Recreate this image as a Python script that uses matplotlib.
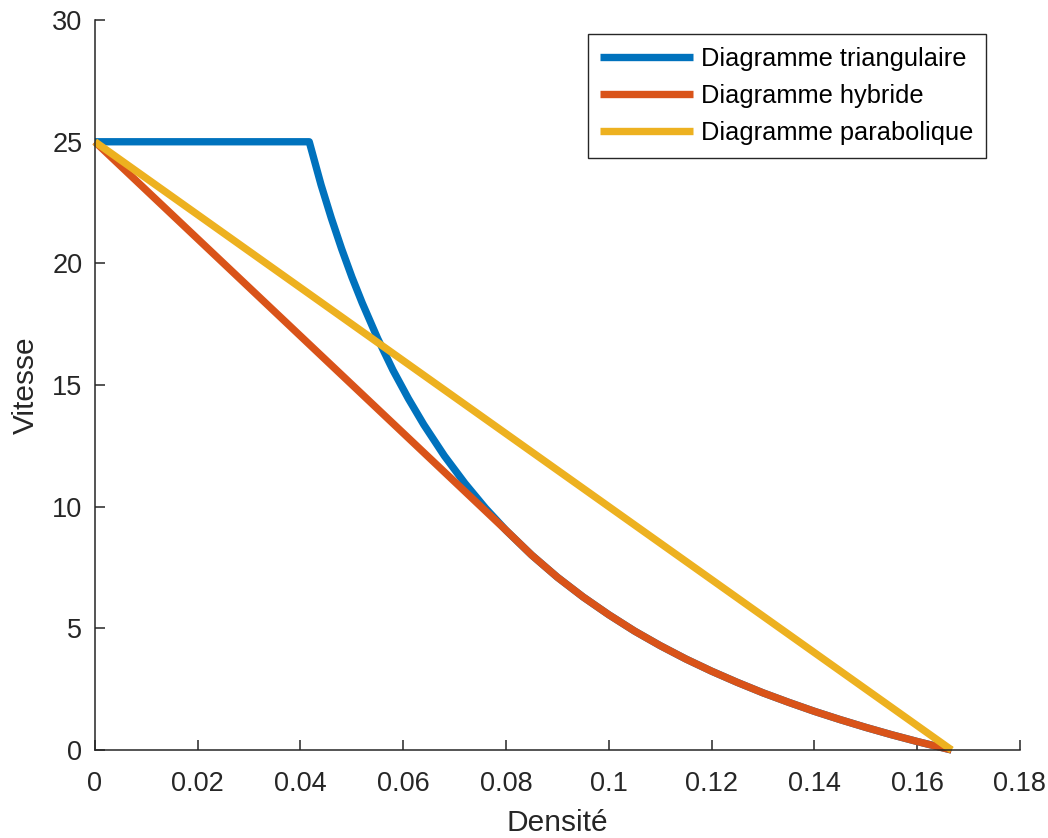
import matplotlib
matplotlib.use("Agg")
import matplotlib.pyplot as plt

# densité (veh/m) et vitesse (m/s)
rho_tri = [0.0, 0.0417, 0.044, 0.046, 0.048, 0.050, 0.052, 0.055, 0.058, 0.061,
           0.064, 0.068, 0.072, 0.076, 0.080, 0.085, 0.090, 0.095, 0.100, 0.105,
           0.110, 0.115, 0.120, 0.125, 0.130, 0.135, 0.140, 0.145, 0.150, 0.155,
           0.160, 0.1667]
v_tri = [25.0, 25.0, 23.23, 21.86, 20.60, 19.44, 18.38, 16.92, 15.61, 14.44,
         13.37, 12.09, 10.96, 9.94, 9.03, 8.01, 7.10, 6.29, 5.56, 4.89,
         4.29, 3.74, 3.24, 2.78, 2.35, 1.96, 1.59, 1.25, 0.93, 0.63,
         0.35, 0.0]

rho_hyb = [0.0, 0.080, 0.085, 0.090, 0.095, 0.100, 0.105, 0.110, 0.115, 0.120,
           0.125, 0.130, 0.135, 0.140, 0.145, 0.150, 0.155, 0.160, 0.1667]
v_hyb = [25.0, 9.03, 8.01, 7.10, 6.29, 5.56, 4.89, 4.29, 3.74, 3.24,
         2.78, 2.35, 1.96, 1.59, 1.25, 0.93, 0.63, 0.35, 0.0]

rho_par = [0.0, 0.1667]
v_par = [25.0, 0.0]

xticks = [0, 0.02, 0.04, 0.06, 0.08, 0.1, 0.12, 0.14, 0.16, 0.18]
xticklabels = ["0", "0.02", "0.04", "0.06", "0.08", "0.1", "0.12", "0.14", "0.16", "0.18"]
yticks = [0, 5, 10, 15, 20, 25, 30]

dark = "#262626"
plt.rcParams["font.family"] = ["Liberation Sans", "DejaVu Sans"]

fig = plt.figure(figsize=(10.48, 8.38), dpi=100)
ax = fig.add_axes([0.0906, 0.105, 0.8826, 0.871])

lw = 5.3
ax.plot(rho_tri, v_tri, color="#0072BD", lw=lw, solid_capstyle="butt",
        solid_joinstyle="round", clip_on=False, label="Diagramme triangulaire")
ax.plot(rho_hyb, v_hyb, color="#D95319", lw=lw, solid_capstyle="butt",
        solid_joinstyle="round", clip_on=False, label="Diagramme hybride")
ax.plot(rho_par, v_par, color="#EDB120", lw=lw, solid_capstyle="butt",
        clip_on=False, label="Diagramme parabolique")

ax.set_xlim(0, 0.18)
ax.set_ylim(0, 30)
ax.set_xticks(xticks)
ax.set_xticklabels(xticklabels)
ax.set_yticks(yticks)

for side in ("top", "right"):
    ax.spines[side].set_visible(False)
for side in ("left", "bottom"):
    ax.spines[side].set_color(dark)
    ax.spines[side].set_linewidth(1.1)

ax.tick_params(direction="in", length=7, width=1.1, colors=dark,
               labelsize=19.5)
ax.tick_params(axis="x", pad=15)
ax.tick_params(axis="y", pad=9)

ax.set_xlabel("Densité", fontsize=21.5, color=dark, labelpad=9)
ax.set_ylabel("Vitesse", fontsize=21.5, color=dark, labelpad=9)

leg = ax.legend(loc="upper right", bbox_to_anchor=(0.963, 0.981),
                borderaxespad=0, fontsize=18.3, handlelength=3.65,
                handletextpad=0.3, labelspacing=0.52, borderpad=0.5,
                fancybox=False, framealpha=1, edgecolor=dark)
leg.get_frame().set_linewidth(1.0)
for t in leg.get_texts():
    t.set_color("black")

fig.savefig("out.png", dpi=100, facecolor="white")
